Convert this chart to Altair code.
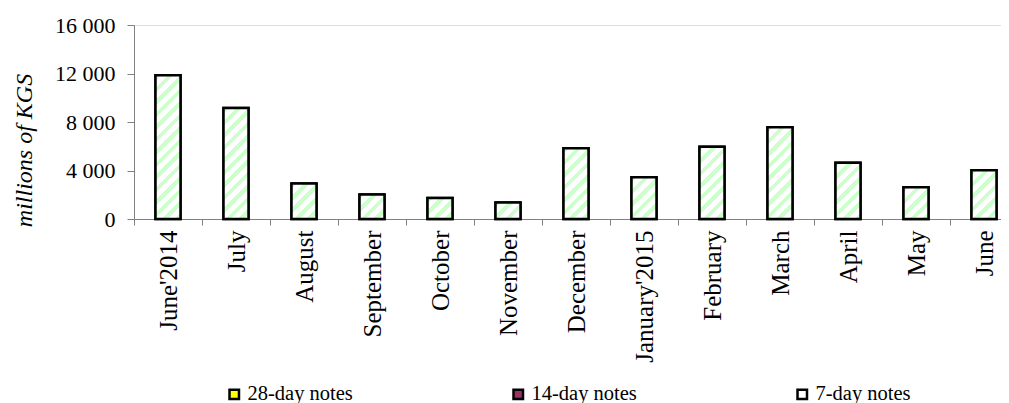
import math
import altair as alt

months = ["June'2014", "July", "August", "September", "October", "November",
          "December", "January'2015", "February", "March", "April", "May", "June"]
notes_7day = [11850, 9150, 2930, 2020, 1740, 1360, 5830, 3450, 5950, 7570, 4630, 2620, 4030]
series_names = ["28-day notes", "14-day notes", "7-day notes"]
series_colors = ["#ffff00", "#993366", "#ffffff"]
y_ticks = [0, 4000, 8000, 12000, 16000]

BAND_SPAN = 884     # full category axis length (extends past the window edge)
VIEW_W = 867        # visible part of the plot area
PLOT_H = 194
Y_MAX = 16000
BAR_W = 25
HATCH = "#ccffcc"


def hatch_gradient(value):
    """Diagonal '/' hatch as a hard-stop linear gradient for one bar."""
    w = BAR_W
    h = max(value * PLOT_H / Y_MAX, 1.0)
    k = (w + h) / (w * w + h * h)
    span = w + h
    period = 12.5
    frac = 0.45
    stops = [{"offset": 0, "color": "#ffffff"}]
    i = 0
    while i * period < span:
        a = min(i * period / span, 1.0)
        b = min((i * period + frac * period) / span, 1.0)
        stops += [{"offset": a, "color": "#ffffff"}, {"offset": a, "color": HATCH},
                  {"offset": b, "color": HATCH}, {"offset": b, "color": "#ffffff"}]
        i += 1
    stops.append({"offset": 1, "color": "#ffffff"})
    return {"gradient": "linear", "x1": 0, "y1": 0, "x2": w * k, "y2": h * k, "stops": stops}


records = [
    {"month": m, "value": v, "series": "7-day notes", "grad": hatch_gradient(v)}
    for m, v in zip(months, notes_7day)
]
data = alt.Data(values=records)

FONT = "Liberation Serif"

x_enc = alt.X(
    "month:N", sort=months,
    scale=alt.Scale(paddingInner=0, paddingOuter=0, range=[0, BAND_SPAN]),
    axis=alt.Axis(
        title=None, labelAngle=-90, labelFont=FONT, labelFontSize=25,
        labelColor="black", tickBand="extent", tickSize=6, tickColor="#808080",
        domainColor="#808080", labelPadding=5, labelLimit=300,
    ),
)
y_enc = alt.Y(
    "value:Q", stack=None,
    scale=alt.Scale(domain=[0, Y_MAX], nice=False),
    axis=alt.Axis(
        title="millions of KGS", titleFont=FONT, titleFontSize=24,
        titleFontStyle="italic", titleFontWeight="normal", titleColor="black",
        titleAngle=270, titleX=-110, titleY=125, titleAlign="center",
        titleBaseline="middle",
        values=y_ticks, grid=False, labelFont=FONT, labelFontSize=22,
        labelColor="black", tickSize=7, tickColor="#808080",
        domainColor="#808080", labelPadding=12,
        labelExpr="replace(format(datum.value, ','), ',', ' ')",
    ),
)

legend_bars = alt.Chart(data).mark_bar(
    size=BAR_W, stroke="black", strokeWidth=2.5
).encode(
    x=x_enc,
    y=y_enc,
    color=alt.Color(
        "series:N",
        scale=alt.Scale(domain=series_names, range=series_colors),
        legend=alt.Legend(
            title=None, orient="none", legendX=90, legendY=359,
            direction="horizontal", columns=3, gridAlign="all",
            columnPadding=155, symbolType="square", symbolSize=90,
            symbolStrokeColor="black", symbolStrokeWidth=2.5,
            symbolOpacity=1,
            labelFont=FONT, labelFontSize=20.5, labelColor="black",
            labelOffset=3, labelLimit=300,
        ),
    ),
)

hatch_bars = alt.Chart(data).mark_bar(
    size=BAR_W, stroke="black", strokeWidth=2.5
).encode(
    x=x_enc,
    y=y_enc,
    fill=alt.Fill("grad:N", scale=None, legend=None),
)

chart = alt.layer(legend_bars, hatch_bars).properties(
    width=VIEW_W, height=PLOT_H,
    padding={"left": 126, "top": 17, "right": 0, "bottom": 184},
    autosize=alt.AutoSizeParams(type="none"),
).configure_view(stroke=None).configure(background="white")

chart.save("out.html", embed_options={"renderer": "svg", "actions": False})
